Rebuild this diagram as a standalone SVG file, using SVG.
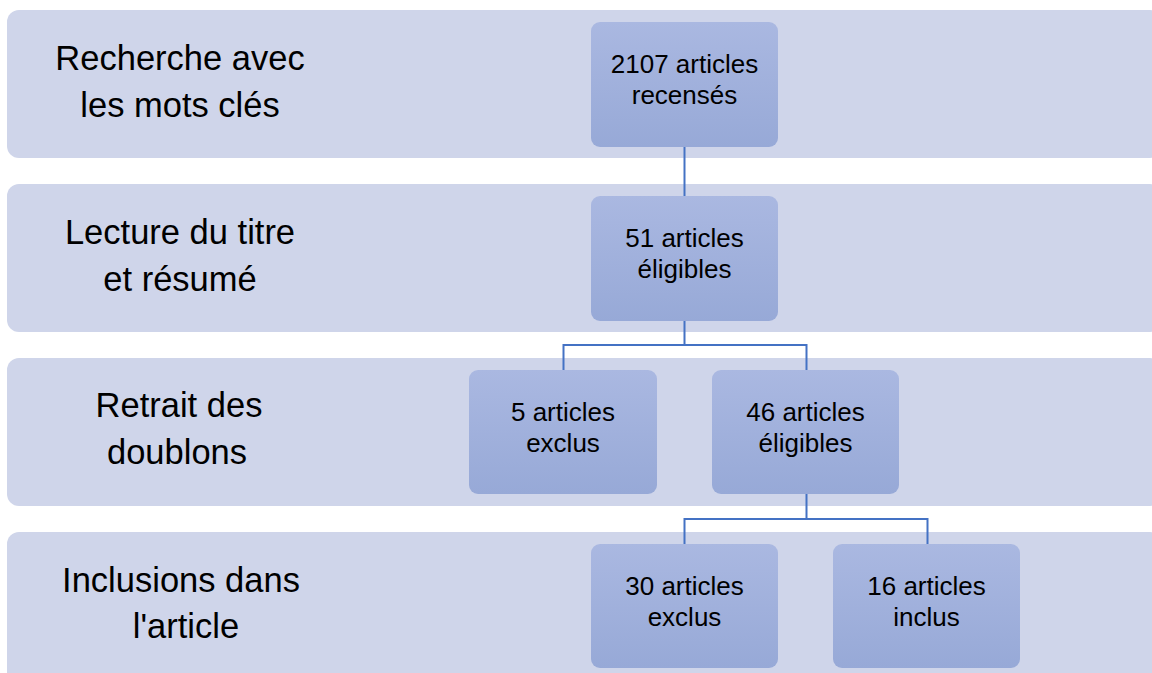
<svg xmlns="http://www.w3.org/2000/svg" width="1152" height="673" viewBox="0 0 1152 673">
<defs>
<linearGradient id="boxg" x1="0" y1="0" x2="0" y2="1">
<stop offset="0" stop-color="#AAB8E1"/>
<stop offset="1" stop-color="#97A9D7"/>
</linearGradient>
<style>
.band{fill:#CFD5EA}
.box{fill:url(#boxg)}
.lab{font-family:"Liberation Sans",Arial,sans-serif;font-size:34.5px;fill:#000;text-anchor:middle}
.txt{font-family:"Liberation Sans",Arial,sans-serif;font-size:26px;fill:#000;text-anchor:middle}
.con{fill:none;stroke:#4472C4;stroke-width:2}
</style>
</defs>
<rect width="1152" height="673" fill="#FFFFFF"/>
<g id="band1"><rect class="band" x="7" y="10" width="1155" height="148" rx="12"/>
<text class="lab" x="180" y="70">Recherche avec</text><text class="lab" x="180" y="117">les mots clés</text></g>
<g id="band2"><rect class="band" x="7" y="184" width="1155" height="148" rx="12"/>
<text class="lab" x="180" y="244">Lecture du titre</text><text class="lab" x="180" y="291">et résumé</text></g>
<g id="band3"><rect class="band" x="7" y="358" width="1155" height="148" rx="12"/>
<text class="lab" x="179" y="417">Retrait des</text><text class="lab" x="177" y="464">doublons</text></g>
<g id="band4"><rect class="band" x="7" y="532" width="1155" height="160" rx="12"/>
<text class="lab" x="181" y="592">Inclusions dans</text><text class="lab" x="186" y="638">l'article</text></g>
<g id="connectors">
<path class="con" d="M684.5 147V196"/>
<path class="con" d="M684.5 320V345H563.5V370M684.5 345H806.5V370"/>
<path class="con" d="M806.5 494V519H684.5V544M806.5 519H927.5V544"/>
</g>
<g id="n1"><rect class="box" x="591" y="22" width="187" height="125" rx="9"/>
<text class="txt" x="684.5" y="73">2107 articles</text><text class="txt" x="684.5" y="104">recensés</text></g>
<g id="n2"><rect class="box" x="591" y="196" width="187" height="125" rx="9"/>
<text class="txt" x="684.5" y="247">51 articles</text><text class="txt" x="684.5" y="278">éligibles</text></g>
<g id="n3"><rect class="box" x="469" y="370" width="188" height="124" rx="9"/>
<text class="txt" x="563" y="421">5 articles</text><text class="txt" x="563" y="452">exclus</text></g>
<g id="n4"><rect class="box" x="712" y="370" width="187" height="124" rx="9"/>
<text class="txt" x="805.5" y="421">46 articles</text><text class="txt" x="805.5" y="452">éligibles</text></g>
<g id="n5"><rect class="box" x="591" y="544" width="187" height="124" rx="9"/>
<text class="txt" x="684.5" y="595">30 articles</text><text class="txt" x="684.5" y="626">exclus</text></g>
<g id="n6"><rect class="box" x="833" y="544" width="187" height="124" rx="9"/>
<text class="txt" x="926.5" y="595">16 articles</text><text class="txt" x="926.5" y="626">inclus</text></g>
</svg>
